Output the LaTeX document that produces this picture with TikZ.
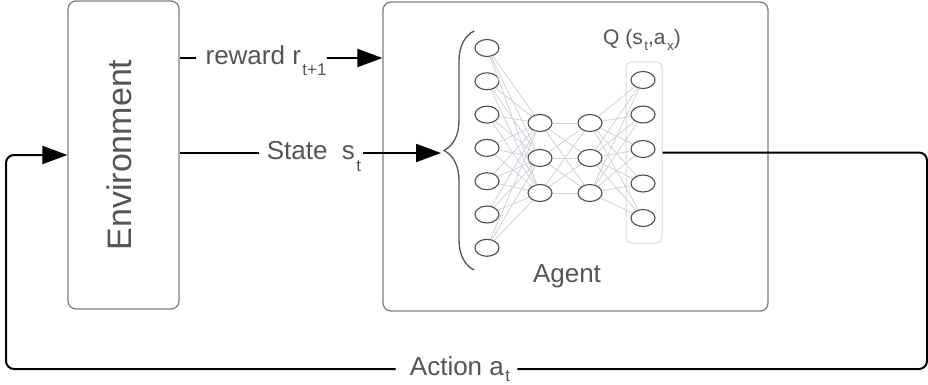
\documentclass[tikz,border=0pt]{standalone}
\usepackage{fontspec}
\setmainfont{Liberation Sans}
\usetikzlibrary{
  arrows.meta,
  shapes.geometric,
  decorations.pathreplacing
}
\definecolor{txtgray}{HTML}{555555}
\definecolor{boxgray}{HTML}{7F7F7F}
\definecolor{netgray}{HTML}{CDD3DA}
\definecolor{outgray}{HTML}{D6DCE3}
\newcommand{\sub}[2][0.4em]{\hspace{1.5pt}\raisebox{-#1}{\scalebox{0.65}{#2}}}
\tikzset{
  block/.style={
    draw=boxgray, line width=1.3pt, rounded corners=8pt
  },
  neuron/.style={
    ellipse, draw=black!70, line width=1.1pt, fill=white,
    minimum width=24pt, minimum height=17pt, inner sep=0pt
  },
  synapse/.style={netgray, line width=0.8pt},
  flow/.style={black, line width=2pt},
  flowtip/.style={-{Triangle[length=25pt,width=18pt]}},
  lbl/.style={
    text=txtgray, font=\fontsize{26}{30}\selectfont,
    text height=16pt, text depth=2.6pt, inner sep=0pt
  }
}

\begin{document}
\begin{tikzpicture}[x=1pt,y=-1pt]
\useasboundingbox (0,0) rectangle (928,385);
% the two blocks
\node[block, minimum width=111pt, minimum height=308pt, text=txtgray,
  font=\fontsize{34}{40}\selectfont] (env) at (123.5,155)
  {\rotatebox{90}{\strut Environment}};
\node[block, minimum width=385pt, minimum height=309pt] (agent) at (575.5,156.5) {};
\node[lbl] (agentlbl) at (567,276) {Agent};
% network
\node[draw=outgray, line width=1pt, rounded corners=6pt,
  minimum width=36pt, minimum height=181pt] (outbox) at (644,152.5) {};
\foreach \i in {1,...,7}
  \node[neuron] (in\i) at (487,{48+33.3*(\i-1)}) {};
\foreach \i in {1,2,3}{
  \node[neuron] (ha\i) at (540,{123+35*(\i-1)}) {};
  \node[neuron] (hb\i) at (590,{123+35*(\i-1)}) {};
}
\foreach \i in {1,...,5}
  \node[neuron] (out\i) at (643,{80+34.5*(\i-1)}) {};
\foreach \j in {1,2,3}{
  \foreach \i in {1,...,7}
    \draw[synapse] (in\i) -- (ha\j);
  \foreach \i in {1,2,3}
    \draw[synapse] (ha\i) -- (hb\j);
  \foreach \i in {1,...,5}
    \draw[synapse] (hb\j) -- (out\i);
}
\draw[txtgray, line width=1.3pt, decorate, decoration={brace, amplitude=30pt}]
  (474,270) -- (474,31);
\node[text=txtgray, font=\fontsize{21}{25}\selectfont] (qlbl) at (642,40)
  {Q (s\sub[0.3em]{t},a\sub[0.3em]{x})};
% signals
\node[lbl] (rewardlbl) at (266,58) {reward r\sub{t+1}};
\draw[flow] (env.east |- rewardlbl) -- ([xshift=-9pt]rewardlbl.west);
\draw[flow, flowtip] (rewardlbl.east) -- (agent.west |- rewardlbl);
\node[lbl] (statelbl) at (314,153) {State~~s\sub[0.45em]{t}};
\coordinate (brtip) at (441,153);
\draw[flow] (env.east |- statelbl) -- ([xshift=-8pt]statelbl.west);
\draw[flow, flowtip] ([xshift=2pt]statelbl.east) -- (brtip);
\node[lbl] (actlbl) at (460,369) {Action a\sub[0.22em]{t}};
\coordinate (loopR) at (927,369);
\coordinate (loopL) at (6,369);
\draw[flow, rounded corners=8pt] (outbox.east) -| (loopR) -- ([xshift=7pt]actlbl.east);
\draw[flow, rounded corners=8pt, flowtip] ([xshift=-14pt]actlbl.west) -- (loopL) |- (env.west);
\end{tikzpicture}
\end{document}
